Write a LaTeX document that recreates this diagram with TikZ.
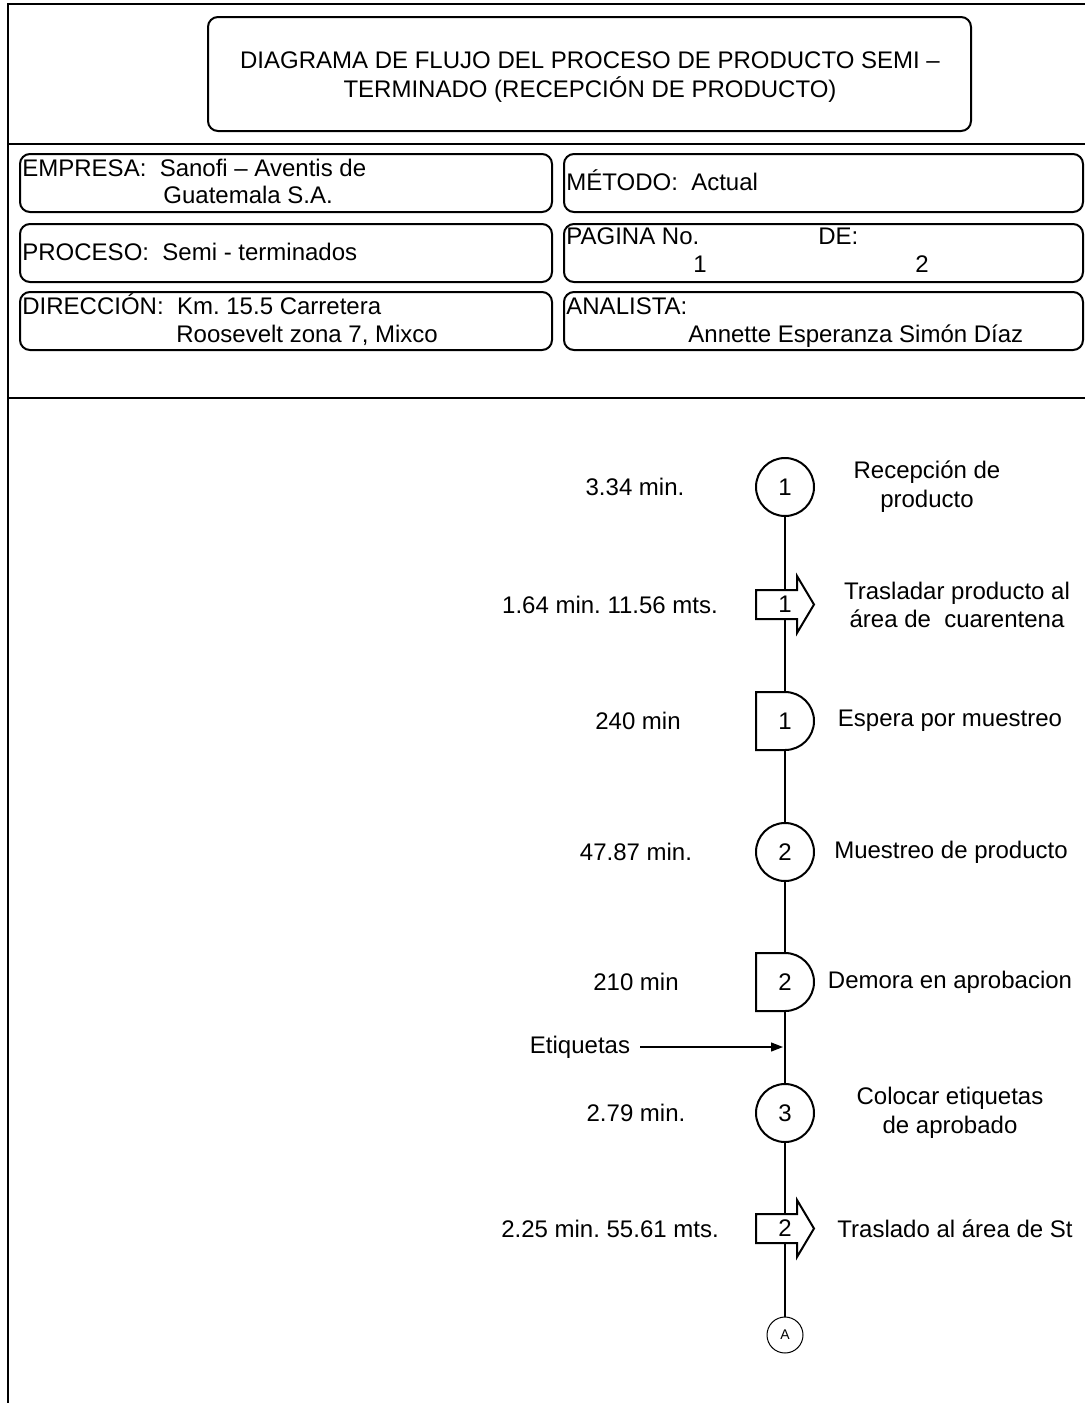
\documentclass[tikz,border=0pt]{standalone}
\usepackage{fontspec}
\setmainfont{Liberation Sans}
\usetikzlibrary{arrows.meta,backgrounds}
\frenchspacing
\begin{document}
\begin{tikzpicture}[x=0.5pt,y=-0.5pt,
  txt/.style={font=\fontsize{12}{14.4}\selectfont, inner sep=0pt},
  frame/.style={line width=1pt},
  box/.style={draw, line width=1pt, rounded corners=5pt},
  op/.style={circle, draw, line width=1pt, minimum size=29pt, inner sep=0pt, fill=white, font=\fontsize{12}{14.4}\selectfont},
  shp/.style={draw, line width=1pt, fill=white},
  num/.style={inner sep=0pt, font=\fontsize{12}{14.4}\selectfont},
  conn/.style={line width=1pt},
  conA/.style={circle, draw, line width=0.5pt, minimum size=18pt, inner sep=0pt, fill=white, font=\fontsize{7}{8}\selectfont}
]
\useasboundingbox (0,0) rectangle (1085,1403);

% frame
\draw[frame] (1090,4) -- (8,4) -- (8,1410);
\draw[frame] (8,144) -- (1090,144);
\draw[frame] (8,398) -- (1090,398);

% title
\draw[box] (208,17) rectangle (971,131);
\node[txt, align=center] (title) at (590,77) {DIAGRAMA DE FLUJO DEL PROCESO DE PRODUCTO SEMI --\\TERMINADO (RECEPCIÓN DE PRODUCTO)};

% info boxes
\draw[box] (20,154) rectangle (552,212);
\draw[box] (564,154) rectangle (1083,212);
\draw[box] (20,224) rectangle (552,282);
\draw[box] (564,224) rectangle (1083,282);
\draw[box] (20,292) rectangle (552,350);
\draw[box] (564,292) rectangle (1083,350);

\node[txt, anchor=base west] (emp1) at (22,176) {EMPRESA:\ \ Sanofi -- Aventis de};
\node[txt, anchor=base west] (emp2) at (163,203) {Guatemala S.A.};
\node[txt, anchor=base west] (met) at (566,190) {MÉTODO:\ \ Actual};
\node[txt, anchor=base west] (pro) at (22,260) {PROCESO:\ \ Semi - terminados};
\node[txt, anchor=base west] (pag) at (566,244) {PAGINA No.};
\node[txt, anchor=base west] (de) at (818,244) {DE:};
\node[txt, anchor=base] (pag1) at (700,272) {1};
\node[txt, anchor=base] (pag2) at (922,272) {2};
\node[txt, anchor=base west] (dir1) at (22,314) {DIRECCIÓN:\ \ Km. 15.5 Carretera};
\node[txt, anchor=base west] (dir2) at (176,342) {Roosevelt zona 7, Mixco};
\node[txt, anchor=base west] (ana1) at (566,314) {ANALISTA:};
\node[txt, anchor=base west] (ana2) at (688,342) {Annette Esperanza Simón Díaz};

% flow symbols
\node[op] (c1) at (785,487) {1};

\draw[shp] (756,590) -- (797,590) -- (797,576) -- (814,604.5) -- (797,633) -- (797,619) -- (756,619) -- cycle;
\node[num] (t1) at (785,604.5) {1};

\draw[shp] (756,692) -- (785,692) arc[start angle=90, end angle=-90, radius=14.5pt] -- (756,750) -- cycle;
\node[num] (d1) at (785,721) {1};

\node[op] (c2) at (785,852) {2};

\draw[shp] (756,953) -- (785,953) arc[start angle=90, end angle=-90, radius=14.5pt] -- (756,1011) -- cycle;
\node[num] (d2) at (785,982) {2};

\coordinate (et) at (785,1047);

\node[op] (c3) at (785,1113) {3};

\draw[shp] (756,1214) -- (797,1214) -- (797,1200) -- (814,1228.5) -- (797,1257) -- (797,1243) -- (756,1243) -- cycle;
\node[num] (t2) at (785,1228.5) {2};

\node[conA] (A) at (785,1335) {A};

% connectors (behind shapes)
\begin{scope}[on background layer]
\draw[conn] (c1.south) -- (t1.center) -- (d1.center) -- (c2.center) -- (d2.center) -- (et) -- (c3.center) -- (t2.center) -- (A.north);
\end{scope}

% Etiquetas input
\node[txt] (etq) at (580,1047) {Etiquetas};
\draw[line width=0.6pt, -{Triangle[length=6pt,width=4.5pt]}] ([xshift=5pt]etq.east) -- ([xshift=-1pt]et);

% left labels
\node[txt] (l1) at (635,487) {3.34 min.};
\node[txt] (l2) at (610,605) {1.64 min. 11.56 mts.};
\node[txt] (l3) at (638,721) {240 min};
\node[txt] (l4) at (636,852) {47.87 min.};
\node[txt] (l5) at (636,982) {210 min};
\node[txt] (l6) at (636,1113) {2.79 min.};
\node[txt] (l7) at (610,1229) {2.25 min. 55.61 mts.};

% right labels
\node[txt, align=center] (r1) at (927,487) {Recepción de\\producto};
\node[txt, align=center] (r2) at (957,605) {Trasladar producto al\\área de\ \ cuarentena};
\node[txt] (r3) at (950,721) {Espera por muestreo};
\node[txt] (r4) at (951,852) {Muestreo de producto};
\node[txt] (r5) at (950,982) {Demora en aprobacion};
\node[txt, align=center] (r6) at (950,1113) {Colocar etiquetas\\de aprobado};
\node[txt] (r7) at (955,1229) {Traslado al área de St};
\end{tikzpicture}
\end{document}
